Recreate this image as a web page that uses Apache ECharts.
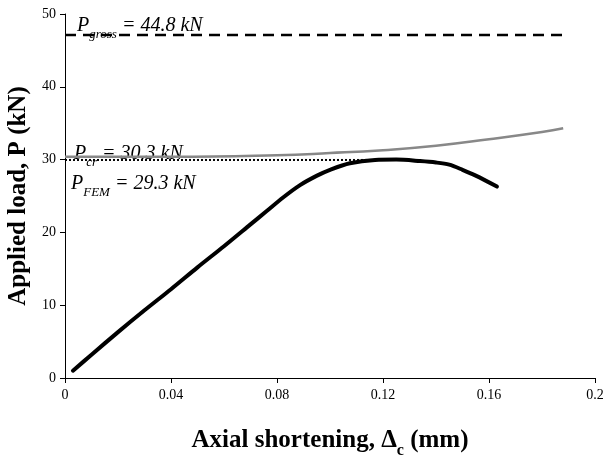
<!DOCTYPE html>
<html>
<head>
<meta charset="utf-8">
<script src="https://cdn.jsdelivr.net/npm/echarts@6/dist/echarts.min.js"></script>
<style>
  html, body { margin: 0; padding: 0; background: #fff; }
  #chart { width: 607px; height: 464px; }
</style>
</head>
<body>
<div id="chart"></div>
<script>
// FEM load - shortening curve (black)
var femX = [0.003, 0.01, 0.02, 0.03, 0.04, 0.05, 0.06, 0.07, 0.076, 0.0823, 0.0887, 0.0951, 0.1, 0.1075, 0.117, 0.125, 0.134, 0.14, 0.145, 0.15, 0.155, 0.163];
var femY = [1.0, 3.2, 6.3, 9.3, 12.2, 15.2, 18.1, 21.1, 22.9, 24.8, 26.5, 27.8, 28.6, 29.5, 29.95, 30.0, 29.8, 29.6, 29.3, 28.6, 27.8, 26.3];
// buckling curve (grey)
var crX = [0, 0.04, 0.08, 0.1, 0.12, 0.14, 0.16, 0.18, 0.188];
var crY = [30.4, 30.4, 30.6, 30.9, 31.3, 31.9, 32.8, 33.8, 34.3];
// reference levels
var grossX = [0, 0.1887];
var grossY = 47.1;
var femLineX = [0, 0.134];
var femLineY = 29.95;

var xTicks = ['0', '0.04', '0.08', '0.12', '0.16', '0.2'];

function pairs(xs, ys) {
  var out = [];
  for (var i = 0; i < xs.length; i++) {
    out.push([xs[i], Array.isArray(ys) ? ys[i] : ys]);
  }
  return out;
}

var myChart = echarts.init(document.getElementById('chart'));
var serif = 'Liberation Serif';

var noteRich = {
  i: { fontFamily: serif, fontStyle: 'italic', fontSize: 20, fill: '#000' },
  s: { fontFamily: serif, fontStyle: 'italic', fontSize: 13, fill: '#000', verticalAlign: 'bottom', padding: [0, 0, -5, 0] }
};

var option = {
  animation: false,
  grid: { left: 65, right: 12, top: 14, bottom: 86, containLabel: false, outerBoundsMode: 'none' },
  xAxis: {
    type: 'value',
    min: 0, max: 0.2, interval: 0.04,
    splitLine: { show: false },
    axisLine: { lineStyle: { color: '#000', width: 1 } },
    axisTick: { length: 5, lineStyle: { color: '#000' } },
    axisLabel: {
      color: '#000', fontFamily: serif, fontSize: 14, margin: 10,
      formatter: function (v) { return xTicks[Math.round(v / 0.04)]; }
    },
    name: '{a|Axial shortening, Δ}{s|c}{a| (mm)}',
    nameLocation: 'middle',
    nameGap: 50,
    nameTextStyle: {
      rich: {
        a: { fontFamily: serif, fontSize: 25, fontWeight: 'bold', color: '#000' },
        s: { fontFamily: serif, fontSize: 16, fontWeight: 'bold', color: '#000', verticalAlign: 'bottom', padding: [0, 0, -6, 0] }
      }
    }
  },
  yAxis: {
    type: 'value',
    min: 0, max: 50, interval: 10,
    splitLine: { show: false },
    axisLine: { show: true, lineStyle: { color: '#000', width: 1 } },
    axisTick: { show: true, length: 5, lineStyle: { color: '#000' } },
    axisLabel: { color: '#000', fontFamily: serif, fontSize: 14, margin: 9 },
    name: 'Applied load, P (kN)',
    nameLocation: 'middle',
    nameGap: 31,
    nameTextStyle: { fontFamily: serif, fontSize: 25, fontWeight: 'bold', color: '#000' }
  },
  series: [
    {
      name: 'gross', type: 'line', data: pairs(grossX, grossY),
      symbol: 'none', lineStyle: { color: '#000', width: 2.5, type: [11, 7] }
    },
    {
      name: 'cr', type: 'line', data: pairs(crX, crY), smooth: true,
      symbol: 'none', lineStyle: { color: '#888', width: 2.5 }
    },
    {
      name: 'femLevel', type: 'line', data: pairs(femLineX, femLineY),
      symbol: 'none', lineStyle: { color: '#000', width: 2, type: [2, 2] }
    },
    {
      name: 'fem', type: 'line', data: pairs(femX, femY), smooth: 0.3,
      symbol: 'none', lineStyle: { color: '#000', width: 4, cap: 'round' }
    }
  ],
  graphic: [
    { type: 'text', left: 77, top: 16, style: { text: '{i|P}{s|gross}{i| = 44.8 kN}', rich: noteRich } },
    { type: 'text', left: 74, top: 144, style: { text: '{i|P}{s|cr}{i| = 30.3 kN}', rich: noteRich } },
    { type: 'text', left: 71, top: 174, style: { text: '{i|P}{s|FEM}{i| = 29.3 kN}', rich: noteRich } }
  ]
};

myChart.setOption(option);
</script>
</body>
</html>
